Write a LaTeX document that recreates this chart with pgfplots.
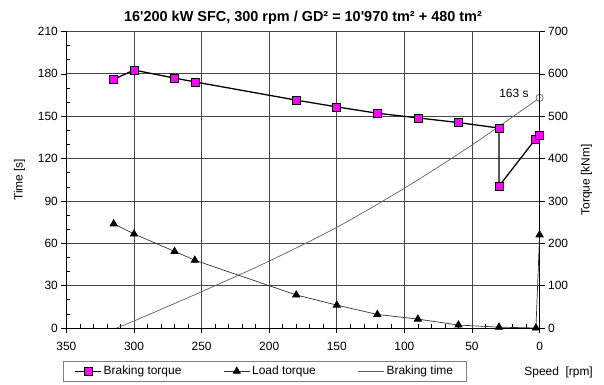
\documentclass[border=0pt]{standalone}
\usepackage{fontspec}
\setmainfont{Liberation Sans}
\newfontfamily\plainsans{Liberation Sans}
\usepackage{pgfplots}
\pgfplotsset{compat=1.18}
\definecolor{mag}{RGB}{255,0,255}
\definecolor{gridc}{RGB}{70,70,70}
\begin{document}
\begin{tikzpicture}
\pgfplotsset{
  every axis/.append style={
    scale only axis, width=473.2bp, height=296.5bp,
    x dir=reverse, xmin=0, xmax=350,
    font=\fontsize{12}{14}\selectfont,
    /pgf/number format/assume math mode=true,
    tick align=outside, major tick length=5bp,
    tick style={black, line width=0.6pt},
    axis line style={black, line width=0.8pt},
  }
}
\begin{axis}[name=ax,
  ymin=0, ymax=210, ytick={0,30,...,210}, minor y tick num=2,
  xtick={0,50,...,350}, minor x tick num=4, minor tick length=-4bp,
  grid=major, major grid style={gridc, line width=0.8pt},
  axis y line*=left, axis x line*=bottom,
  ylabel={Time [s]},
  ylabel style={yshift=6bp},
  xticklabel style={yshift=-6bp},
]
\addplot[gray!75!black, line width=0.7pt, smooth, tension=0.5] coordinates {
 (313,0) (300,5) (250,25.7) (200,47.4) (150,71.3) (100,99) (50,129.6) (0,163)};
\addplot[only marks, mark=*, mark size=3.6bp, mark options={fill=white, draw=gray!75!black, line width=0.7pt}] coordinates {(0,163)};
\node[anchor=east, inner sep=0pt] at (axis cs:8,166.5) {163 s};
\end{axis}
\begin{axis}[
  at={(ax.south west)}, anchor=south west,
  axis x line=none, axis y line*=right,
  ymin=0, ymax=700, ytick={0,100,...,700},
  ylabel={Torque [kNm]},
  ylabel style={yshift=-6bp},
  legend columns=3,
  legend style={at={(-0.007,-0.111)}, anchor=north west,
    draw=gray, line width=0.6pt, font=\fontsize{12}{14}\selectfont,
    inner xsep=11bp, inner ysep=3bp,
    /tikz/every even column/.append style={column sep=40bp}},
  legend image code/.code={\draw[mark repeat=2,mark phase=2,#1] plot coordinates {(0bp,0bp) (13bp,0bp) (26bp,0bp)};},
]
\addplot[black, line width=1.3pt, mark=square*, mark size=4bp,
  mark options={fill=mag, draw=black, line width=0.6pt}] coordinates {
 (315,587) (300,609) (270,590) (255,581) (180,538) (150,522) (120,507)
 (90,496) (60,485) (30,472) (30,335) (3,446) (0,456)};
\addlegendentry{Braking torque}
\addplot[gray!40!black, line width=0.7pt, mark=triangle*, mark size=4.2bp,
  mark options={fill=black, draw=black}] coordinates {
 (315,246) (300,222) (270,181) (255,160) (180,78) (150,54) (120,32)
 (90,21) (60,7) (30,2) (2.7,0) (0,220)};
\addlegendentry{Load torque}
\addlegendimage{gray!75!black, line width=0.7pt}
\addlegendentry{Braking time}
\end{axis}
\node[font=\plainsans\bfseries\fontsize{14.5}{17}\selectfont] at ([yshift=14bp]ax.north) {16'200 kW SFC, 300 rpm / GD² = 10'970 tm² + 480 tm²};
\node[font=\fontsize{12}{14}\selectfont] at ([xshift=19bp, yshift=-44bp]ax.south east) {Speed\ \ [rpm]};
\pgfresetboundingbox
\path[use as bounding box] ([shift={(-66.4bp,-57bp)}]ax.south west) rectangle ++(604bp,385bp);
\end{tikzpicture}
\end{document}
